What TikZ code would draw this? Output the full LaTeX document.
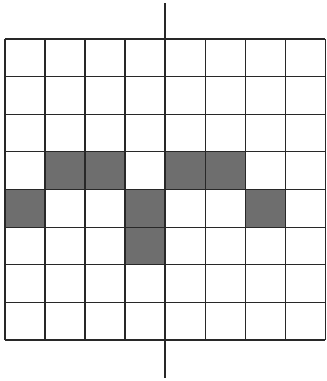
\documentclass[tikz,border=0pt]{standalone}
\usepackage{xcolor}
\usepackage{tikz}
\definecolor{cellgray}{RGB}{110,110,110}
\definecolor{gridink}{RGB}{40,40,40}

\begin{document}
\begin{tikzpicture}[x=1cm, y=-0.94cm]
    \useasboundingbox (-0.125cm,0.975cm) rectangle (8.025cm,-8.545cm);
    % Shaded cells, given as column/row from the top left
    \foreach \c/\r in {1/3,2/3,4/3,5/3,0/4,3/4,6/4,3/5} {
        \fill[cellgray] (\c,\r) rectangle (\c+1,\r+1);
    }
    % The 8x8 grid
    \foreach \i in {0,...,8} {
        \draw[gridink, line width=0.85pt] (\i,0) -- (\i,8);
        \draw[gridink, line width=0.85pt] (0,\i) -- (8,\i);
    }
    % Vertical axis through the middle
    \coordinate (axtop) at (4cm,0.9cm);
    \coordinate (axbot) at (4cm,-8.47cm);
    \draw[gridink, line width=0.85pt] (axtop) -- (axbot);
\end{tikzpicture}
\end{document}
